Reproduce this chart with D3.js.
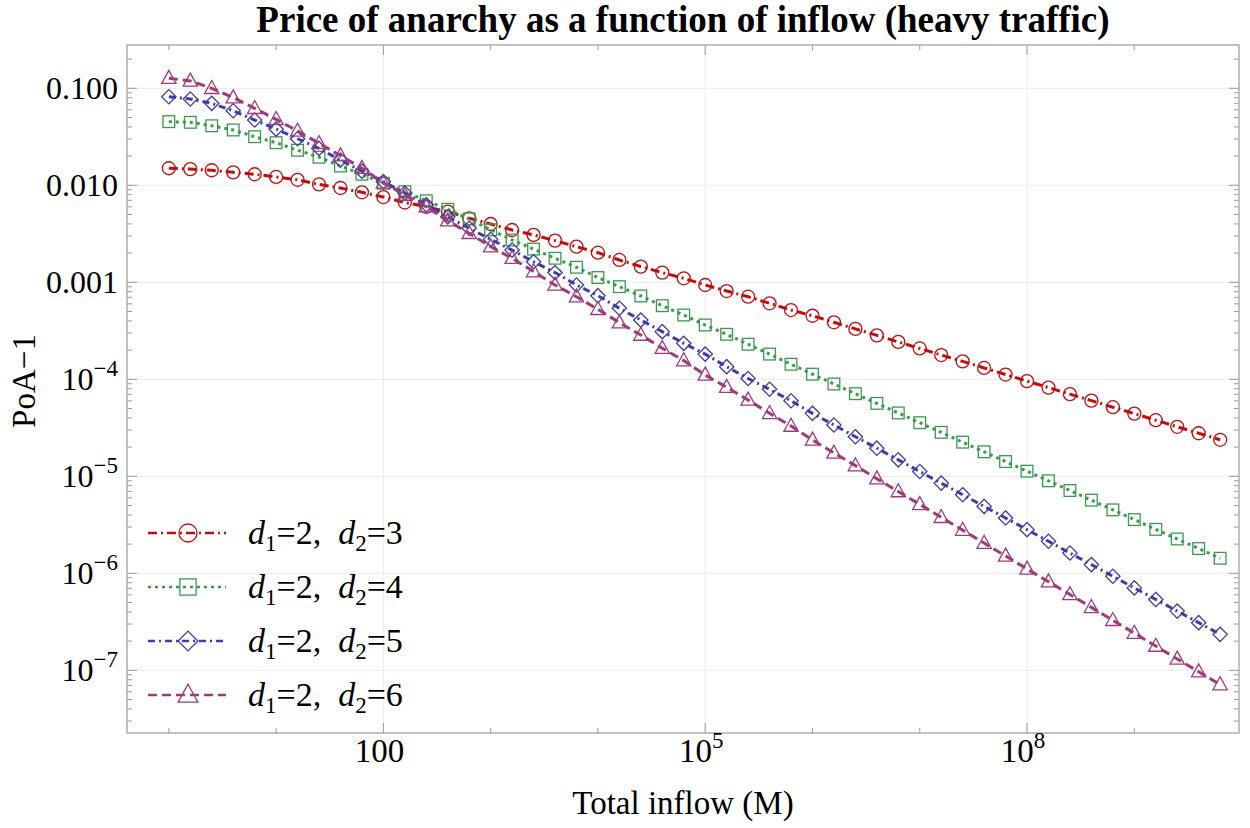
<!DOCTYPE html>
<html>
<head>
<meta charset="utf-8">
<script src="https://cdn.jsdelivr.net/npm/d3@7"></script>
<style>
  body { margin: 0; background: #fff; }
  text { font-family: "Liberation Serif", "DejaVu Serif", serif; fill: #000; }
</style>
</head>
<body>
<script>
// total inflow M: 10^0 ... 10^9.8, step 10^0.2
const inflowExp = d3.range(0, 50).map(i => +(i * 0.2).toFixed(1));
const inflow = inflowExp.map(e => Math.pow(10, e));

// PoA-1
const poaD3 = [0.0150, 0.0147, 0.0143, 0.0136, 0.0130, 0.0122, 0.0114, 0.0102, 0.00938, 0.00847,
  0.00757, 0.00665, 0.00601, 0.00535, 0.00457, 0.00399, 0.00346, 0.00308, 0.00269, 0.00233,
  0.00202, 0.00170, 0.00145, 0.00126, 0.00110, 9.38e-4, 8.13e-4, 7.11e-4, 6.08e-4, 5.18e-4,
  4.52e-4, 3.87e-4, 3.31e-4, 2.84e-4, 2.43e-4, 2.08e-4, 1.78e-4, 1.53e-4, 1.31e-4, 1.12e-4,
  9.59e-5, 8.22e-5, 7.03e-5, 6.03e-5, 5.16e-5, 4.43e-5, 3.79e-5, 3.24e-5, 2.78e-5, 2.38e-5];
const poaD4 = [0.0453, 0.0446, 0.0411, 0.0372, 0.0317, 0.0275, 0.0230, 0.0195, 0.0158, 0.0130,
  0.0105, 0.00859, 0.00693, 0.00566, 0.00450, 0.00347, 0.00273, 0.00220, 0.00177, 0.00143,
  0.00112, 9.02e-4, 7.23e-4, 5.74e-4, 4.60e-4, 3.63e-4, 2.91e-4, 2.30e-4, 1.82e-4, 1.43e-4,
  1.13e-4, 8.95e-5, 7.11e-5, 5.65e-5, 4.50e-5, 3.57e-5, 2.84e-5, 2.25e-5, 1.79e-5, 1.42e-5,
  1.13e-5, 8.99e-6, 7.14e-6, 5.68e-6, 4.51e-6, 3.58e-6, 2.84e-6, 2.26e-6, 1.80e-6, 1.43e-6];
const poaD5 = [0.0818, 0.0776, 0.0700, 0.0587, 0.0471, 0.0380, 0.0302, 0.0240, 0.0182, 0.0140,
  0.0109, 0.00832, 0.00631, 0.00473, 0.00361, 0.00277, 0.00215, 0.00163, 0.00126, 9.38e-4,
  7.28e-4, 5.40e-4, 4.08e-4, 3.10e-4, 2.35e-4, 1.82e-4, 1.35e-4, 1.02e-4, 7.89e-5, 6.01e-5,
  4.46e-5, 3.38e-5, 2.56e-5, 1.95e-5, 1.48e-5, 1.12e-5, 8.51e-6, 6.46e-6, 4.90e-6, 3.72e-6,
  2.82e-6, 2.14e-6, 1.62e-6, 1.23e-6, 9.33e-7, 7.08e-7, 5.38e-7, 4.08e-7, 3.10e-7, 2.35e-7];
const poaD6 = [0.127, 0.119, 0.100, 0.0800, 0.0622, 0.0479, 0.0363, 0.0271, 0.0202, 0.0150,
  0.0106, 0.00794, 0.00601, 0.00432, 0.00320, 0.00233, 0.00177, 0.00129, 9.38e-4, 7.11e-4,
  5.27e-4, 3.84e-4, 2.86e-4, 2.09e-4, 1.56e-4, 1.11e-4, 8.28e-5, 6.12e-5, 4.46e-5, 3.30e-5,
  2.37e-5, 1.74e-5, 1.29e-5, 9.46e-6, 6.97e-6, 5.14e-6, 3.78e-6, 2.79e-6, 2.05e-6, 1.51e-6,
  1.11e-6, 8.20e-7, 6.05e-7, 4.46e-7, 3.28e-7, 2.42e-7, 1.78e-7, 1.31e-7, 9.68e-8, 7.13e-8];

const seriesNames = ["3", "4", "5", "6"];   // d2 values, d1 = 2
const seriesData = [poaD3, poaD4, poaD5, poaD6];

const xTickVals = [1e2, 1e5, 1e8];
const yTickVals = [1e-1, 1e-2, 1e-3, 1e-4, 1e-5, 1e-6, 1e-7];

const colors = ["#c20d0d", "#3a9a4c", "#3c3caa", "#a03a78"];
const dashes = ["9,4,2,4", "3,4", "7,4,2,4", "9,5"];
const shapes = ["circle", "square", "diamond", "triangle"];

const W = 1250, H = 828;
const mLeft = 127, mRight = 1239, mTop = 45, mBottom = 733;

const x = d3.scaleLog().domain([Math.pow(10, -0.39), Math.pow(10, 9.976)]).range([mLeft, mRight]);
const y = d3.scaleLog().domain([Math.pow(10, -7.646), Math.pow(10, -0.5536)]).range([mBottom, mTop]);

const svg = d3.select("body").append("svg")
    .attr("width", W).attr("height", H);

svg.append("rect").attr("width", W).attr("height", H).attr("fill", "#fff");

// grid
svg.append("g").selectAll("line").data(xTickVals).join("line")
    .attr("x1", d => x(d)).attr("x2", d => x(d))
    .attr("y1", mTop).attr("y2", mBottom)
    .attr("stroke", "#ececec").attr("stroke-width", 1);
svg.append("g").selectAll("line").data(yTickVals).join("line")
    .attr("y1", d => y(d)).attr("y2", d => y(d))
    .attr("x1", mLeft).attr("x2", mRight)
    .attr("stroke", "#ececec").attr("stroke-width", 1);

// ticks
const xMinor = d3.range(0, 10).map(e => Math.pow(10, e)).filter(v => !xTickVals.includes(v));
const yMinor = [];
for (let e = -8; e <= -1; e++) for (let m = 2; m <= 9; m++) {
  const v = m * Math.pow(10, e);
  if (v >= y.domain()[0] && v <= y.domain()[1]) yMinor.push(v);
}
const tickColor = "#9a9a9a";
const ticks = svg.append("g").attr("stroke", tickColor).attr("stroke-width", 1);
function xTicks(vals, len) {
  ticks.append("g").selectAll("line").data(vals).join("line")
      .attr("x1", d => x(d)).attr("x2", d => x(d)).attr("y1", mBottom).attr("y2", mBottom - len);
  ticks.append("g").selectAll("line").data(vals).join("line")
      .attr("x1", d => x(d)).attr("x2", d => x(d)).attr("y1", mTop).attr("y2", mTop + len);
}
function yTicks(vals, len) {
  ticks.append("g").selectAll("line").data(vals).join("line")
      .attr("y1", d => y(d)).attr("y2", d => y(d)).attr("x1", mLeft).attr("x2", mLeft + len);
  ticks.append("g").selectAll("line").data(vals).join("line")
      .attr("y1", d => y(d)).attr("y2", d => y(d)).attr("x1", mRight).attr("x2", mRight - len);
}
xTicks(xTickVals, 10); xTicks(xMinor, 5);
yTicks(yTickVals, 10); yTicks(yMinor, 5);

svg.append("rect")
    .attr("x", mLeft).attr("y", mTop).attr("width", mRight - mLeft).attr("height", mBottom - mTop)
    .attr("fill", "none").attr("stroke", "#a8a8a8").attr("stroke-width", 1.4);

// tick labels
const xLab = svg.append("g").attr("font-size", 33).attr("text-anchor", "middle");
xTickVals.forEach(v => {
  const e = Math.round(Math.log10(v));
  const t = xLab.append("text").attr("x", x(v) - 4).attr("y", 762);
  if (e <= 2) t.text(String(v));
  else {
    t.append("tspan").text("10");
    t.append("tspan").attr("font-size", 23).attr("dy", -14).text(e);
  }
});
const yLab = svg.append("g").attr("font-size", 32).attr("text-anchor", "end");
yTickVals.forEach(v => {
  const e = Math.round(Math.log10(v));
  const t = yLab.append("text").attr("x", 118).attr("y", y(v) + 11);
  if (e >= -3) t.text(v.toFixed(3));
  else {
    t.append("tspan").text("10");
    t.append("tspan").attr("font-size", 23).attr("dy", -14).text("\u2212" + (-e));
  }
});

// axis titles
svg.append("text").attr("x", 683).attr("y", 814).attr("text-anchor", "middle")
    .attr("font-size", 33).text("Total inflow (M)");
svg.append("text").attr("transform", "translate(35,381) rotate(-90)").attr("text-anchor", "middle")
    .attr("font-size", 33).text("PoA\u22121");
svg.append("text").attr("x", 683).attr("y", 32).attr("text-anchor", "middle")
    .attr("font-size", 37).attr("font-weight", "bold").text("Price of anarchy as a function of inflow (heavy traffic)");

// markers
function marker(g, shape, cx, cy, s, color) {
  let m;
  if (shape === "circle") m = g.append("circle").attr("cx", cx).attr("cy", cy).attr("r", s * 0.5);
  else if (shape === "square") m = g.append("rect").attr("x", cx - s * 0.45).attr("y", cy - s * 0.45).attr("width", s * 0.9).attr("height", s * 0.9);
  else if (shape === "diamond") m = g.append("path").attr("d", `M${cx},${cy - s * 0.55}L${cx + s * 0.55},${cy}L${cx},${cy + s * 0.55}L${cx - s * 0.55},${cy}Z`);
  else m = g.append("path").attr("d", `M${cx},${cy - s * 0.6}L${cx + s * 0.55},${cy + s * 0.4}L${cx - s * 0.55},${cy + s * 0.4}Z`);
  m.attr("fill", "none").attr("stroke", color).attr("stroke-width", 1.3);
}

svg.append("clipPath").attr("id", "clip").append("rect")
    .attr("x", mLeft).attr("y", mTop).attr("width", mRight - mLeft).attr("height", mBottom - mTop);
const plot = svg.append("g").attr("clip-path", "url(#clip)");

const line = d3.line().x((d, i) => x(inflow[i])).y(d => y(d));

seriesData.forEach((vals, k) => {
  const g = plot.append("g");
  g.append("path").attr("d", line(vals))
      .attr("fill", "none").attr("stroke", colors[k]).attr("stroke-width", 3)
      .attr("stroke-dasharray", dashes[k]);
  vals.forEach((v, i) => marker(g, shapes[k], x(inflow[i]), y(v), 13, colors[k]));
});

// legend
const legRows = [533, 587, 641, 695];
const leg = svg.append("g");
seriesNames.forEach((d2, k) => {
  const ly = legRows[k];
  leg.append("line").attr("x1", 148).attr("x2", 226).attr("y1", ly).attr("y2", ly)
      .attr("stroke", colors[k]).attr("stroke-width", 2.5).attr("stroke-dasharray", dashes[k]);
  marker(leg, shapes[k], 188, ly, 18, colors[k]);
  const t = leg.append("text").attr("x", 248).attr("y", ly + 11).attr("font-size", 34);
  t.append("tspan").attr("font-style", "italic").text("d");
  t.append("tspan").attr("font-size", 23).attr("dy", 7).text("1");
  t.append("tspan").attr("dy", -7).text("=2,\u00a0\u00a0");
  t.append("tspan").attr("font-style", "italic").text("d");
  t.append("tspan").attr("font-size", 23).attr("dy", 7).text("2");
  t.append("tspan").attr("dy", -7).text("=" + d2);
});
</script>
</body>
</html>
